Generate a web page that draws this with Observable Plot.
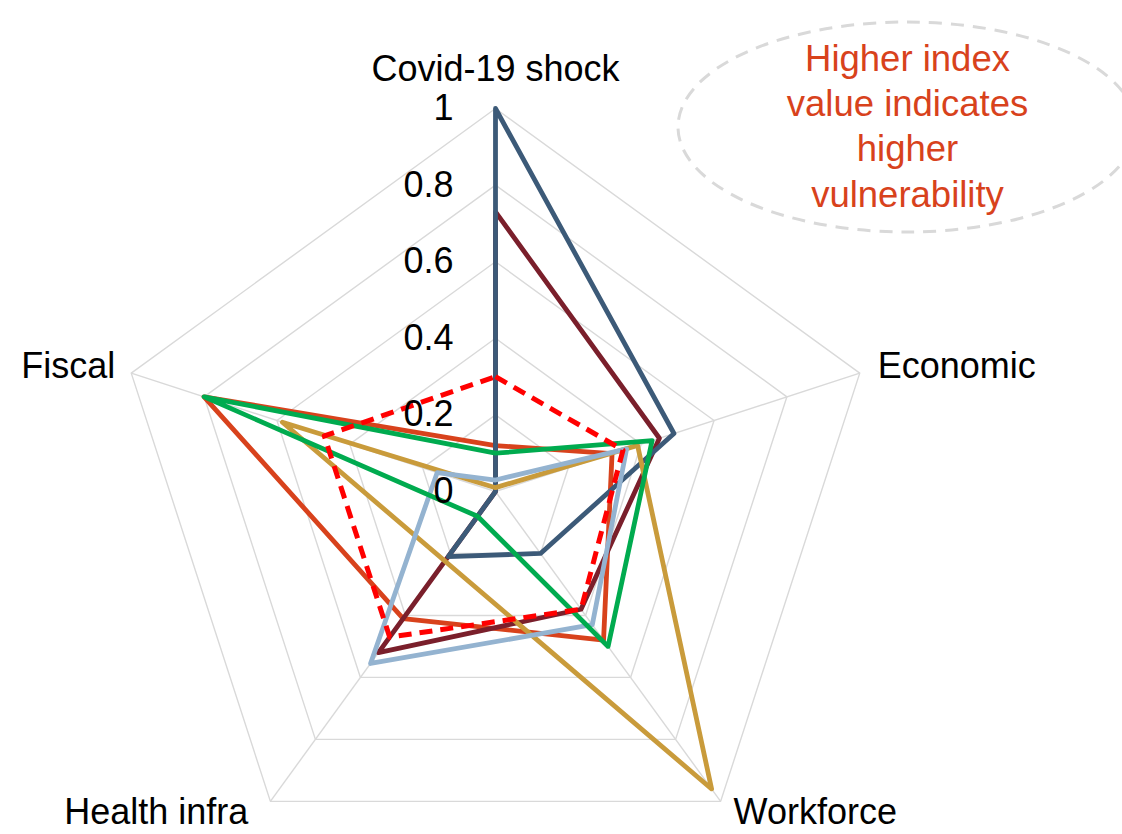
<!DOCTYPE html>
<html>
<head>
<meta charset="utf-8">
<script src="https://cdn.jsdelivr.net/npm/d3@7"></script>
<script src="https://cdn.jsdelivr.net/npm/@observablehq/plot@0.6"></script>
<style>
  html, body { margin: 0; padding: 0; background: #fff; }
  #chart svg { display: block; }
</style>
</head>
<body>
<div id="chart"></div>
<script>
// ---- data ----
const axes = ["Covid-19 shock", "Economic", "Workforce", "Health infra", "Fiscal"];
const levels = [0, 0.2, 0.4, 0.6, 0.8, 1];
const tickLabels = ["0", "0.2", "0.4", "0.6", "0.8", "1"];
const seriesNames = ["S1", "S2", "S3", "S4", "S5", "S6", "S7"];
const s1 = [0.12, 0.32, 0.48, 0.41, 0.80];   // orange-red
const s2 = [0.73, 0.45, 0.38, 0.52, 0.00];   // maroon
const s3 = [1.00, 0.49, 0.20, 0.21, 0.00];   // dark blue
const s4 = [0.01, 0.39, 0.96, null, 0.585];  // gold (health infra blank)
const s5 = [0.03, 0.36, 0.43, 0.555, 0.16];  // light blue
const s6 = [0.10, 0.43, 0.50, 0.08, 0.80];   // green
const s7 = [0.30, 0.35, 0.38, 0.47, 0.47];   // red dashed
const seriesValues = [s1, s2, s3, s4, s5, s6, s7];
const noteLines = ["Higher index", "value indicates", "higher", "vulnerability"];

// ---- layout ----
const W = 1122, H = 834, cx = 495, cy = 491, R = 383;
const colors = ["#d8421c", "#7a1f2b", "#3c5a78", "#c99b3b", "#94b3d0", "#00ab4f", "#ff0000"];
const ang = i => Math.PI / 2 - i * 2 * Math.PI / axes.length;
const px = (v, i) => v * Math.cos(ang(i));
const py = (v, i) => v * Math.sin(ang(i));

const gridPts = levels.filter(l => l > 0).flatMap(l => axes.map((a, i) => ({l, x: px(l, i), y: py(l, i)})));
const spokes = axes.map((a, i) => ({x: px(1, i), y: py(1, i)}));
const pts = seriesNames.flatMap((s, k) =>
  seriesValues[k].map((v, i) => ({s, k, v, i})).filter(d => d.v != null)
    .map(d => ({...d, x: px(d.v, d.i), y: py(d.v, d.i)})));

const labelOff = [
  {anchor: "middle", dx: 0, dy: -39},
  {anchor: "start", dx: 18, dy: -7},
  {anchor: "start", dx: 13, dy: 11},
  {anchor: "end", dx: -22, dy: 11},
  {anchor: "end", dx: -16, dy: -7}
];

const font = "'Liberation Sans', Arial, Helvetica, sans-serif";

const lineMarks = seriesNames.map((s, k) => Plot.line(pts.filter(d => d.k === k), {
  x: "x", y: "y", curve: "linear-closed",
  stroke: colors[k],
  strokeWidth: k === 6 ? 5 : 4.8,
  strokeDasharray: k === 6 ? "13,8" : null,
  strokeLinejoin: "round",
  strokeLinecap: k === 6 ? "butt" : "round"
}));

const plot = Plot.plot({
  width: W, height: H, margin: 0,
  x: {domain: [-cx / R, (W - cx) / R], axis: null},
  y: {domain: [-(H - cy) / R, cy / R], axis: null},
  style: {fontFamily: font, background: "#fff"},
  marks: [
    Plot.line(gridPts, {x: "x", y: "y", z: "l", curve: "linear-closed", stroke: "#d9d9d9", strokeWidth: 1.4}),
    Plot.link(spokes, {x1: 0, y1: 0, x2: "x", y2: "y", stroke: "#d9d9d9", strokeWidth: 1.4}),
    ...lineMarks,
    Plot.text(levels, {x: 0, y: d => d, text: (d, i) => tickLabels[i], dx: -42, textAnchor: "end",
      fontSize: 36, fill: "#000", lineAnchor: "middle"}),
    ...axes.map((a, i) => Plot.text([a], {
      x: px(1, i), y: py(1, i), text: d => d,
      textAnchor: labelOff[i].anchor, dx: labelOff[i].dx, dy: labelOff[i].dy,
      fontSize: 36, fill: "#000", lineAnchor: "middle"
    })),
    Plot.text([noteLines.join("\n")], {frameAnchor: "top-left", dx: 907, dy: 124, text: d => d,
      textAnchor: "middle", lineAnchor: "middle", lineHeight: 1.235, fontSize: 36.5, fill: "#d8421c"})
  ]
});

d3.select(plot).insert("ellipse", ":first-child")
  .attr("cx", 907).attr("cy", 127).attr("rx", 229).attr("ry", 105)
  .attr("fill", "none").attr("stroke", "#d9d9d9").attr("stroke-width", 3)
  .attr("stroke-dasharray", "13,9");

document.getElementById("chart").appendChild(plot);
</script>
</body>
</html>
